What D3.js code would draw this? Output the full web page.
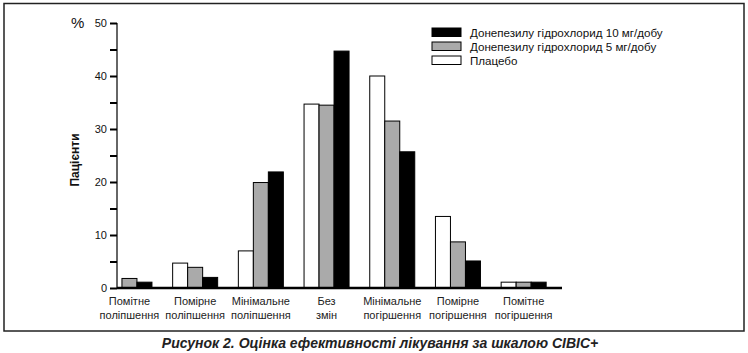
<!DOCTYPE html>
<html><head><meta charset="utf-8">
<script src="https://cdn.jsdelivr.net/npm/d3@7"></script>
<style>body{margin:0;background:#fff}svg{display:block}text{font-family:"Liberation Sans",Arial,sans-serif}</style>
</head><body><svg id="c" width="748" height="353"></svg>
<script>
const categories = [
  ["Помітне","поліпшення"],
  ["Помірне","поліпшення"],
  ["Мінімальне","поліпшення"],
  ["Без","змін"],
  ["Мінімальне","погіршення"],
  ["Помірне","погіршення"],
  ["Помітне","погіршення"]
];
const seriesNames = ["Плацебо","Донепезилу гідрохлорид 5 мг/добу","Донепезилу гідрохлорид 10 мг/добу"];
const placebo = [0, 4.7, 7.0, 34.7, 40.0, 13.5, 1.1];
const dose5   = [1.8, 3.9, 19.9, 34.5, 31.5, 8.7, 1.1];
const dose10  = [1.1, 2.0, 21.9, 44.7, 25.7, 5.1, 1.1];
const yTicks = [0, 10, 20, 30, 40, 50];
const yMinorTicks = [5, 15, 25, 35, 45];
const fills = ["#ffffff", "#aaaaaa", "#000000"];
const legendOrder = [2, 1, 0];
const caption = "Рисунок 2. Оцінка ефективності лікування за шкалою CIBIC+";

const svg = d3.select("#c");
// frame
svg.append("rect").attr("x",4).attr("y",3.5).attr("width",740).attr("height",327.5)
  .attr("fill","none").attr("stroke","#222").attr("stroke-width",1.5);

const y = d3.scaleLinear().domain([0,50]).range([288,23]);
const x0 = d3.scaleBand().domain(d3.range(categories.length)).range([96.6, 556.5])
  .paddingInner(0.315).paddingOuter(0.1575);
const x1 = d3.scaleBand().domain([0,1,2]).range([0, x0.bandwidth()]);

const series = [placebo, dose5, dose10];
const g = svg.append("g");
series.forEach((vals, s) => {
  g.selectAll(null).data(vals).enter().append("rect")
    .attr("x", (d,i) => x0(i) + x1(s))
    .attr("width", x1.bandwidth())
    .attr("y", d => y(d))
    .attr("height", d => y(0) - y(d))
    .attr("fill", fills[s])
    .attr("stroke", d => d > 0 ? "#000" : "none")
    .attr("stroke-width", 1);
});

// y axis
const yAxis = d3.axisLeft(y).tickValues(yTicks).tickSize(7).tickPadding(3).tickFormat(d3.format("d"));
const ya = svg.append("g").attr("transform","translate(117,0)").call(yAxis);
ya.select(".domain").attr("stroke","#666").attr("stroke-width",2).attr("d","M0,23V288");
ya.selectAll(".tick line").attr("stroke","#000").attr("stroke-width",2);
ya.selectAll(".tick text").attr("font-size",11).attr("fill","#111").attr("font-family","Liberation Sans, Arial, sans-serif");
const yMinor = d3.axisLeft(y).tickValues(yMinorTicks).tickSize(7).tickFormat("");
const ym = svg.append("g").attr("transform","translate(117,0)").call(yMinor);
ym.select(".domain").remove();
ym.selectAll(".tick line").attr("stroke","#000").attr("stroke-width",2);

// baseline
svg.append("line").attr("x1",117).attr("x2",562).attr("y1",y(0)).attr("y2",y(0))
  .attr("stroke","#000").attr("stroke-width",2.5);

// x labels
const xl = svg.append("g");
categories.forEach((c,i) => {
  const cx = x0(i) + x0.bandwidth()/2;
  c.forEach((line,k) => {
    xl.append("text").attr("x",cx).attr("y",305 + k*13.5).attr("text-anchor","middle")
      .attr("font-size",11).attr("fill","#222").text(line);
  });
});

// % and y title
svg.append("text").attr("x",71).attr("y",28).attr("font-size",15).attr("fill","#111").text("%");
svg.append("text").attr("transform","translate(79,160) rotate(-90)").attr("text-anchor","middle")
  .attr("font-size",12).attr("font-weight","bold").attr("fill","#111").text("Пацієнти");

// legend
const lg = svg.append("g");
legendOrder.forEach((s,k) => {
  const yy = 28 + k*14;
  lg.append("rect").attr("x",432).attr("y",yy).attr("width",29).attr("height",8.5)
    .attr("fill",fills[s]).attr("stroke","#000").attr("stroke-width",1);
  lg.append("text").attr("x",470).attr("y",yy+8.5).attr("font-size",11.6).attr("fill","#111").text(seriesNames[s]);
});

// caption
svg.append("text").attr("x",380).attr("y",348).attr("text-anchor","middle")
  .attr("font-size",14).attr("font-weight","bold").attr("font-style","italic").attr("fill","#222").text(caption);
</script></body></html>
